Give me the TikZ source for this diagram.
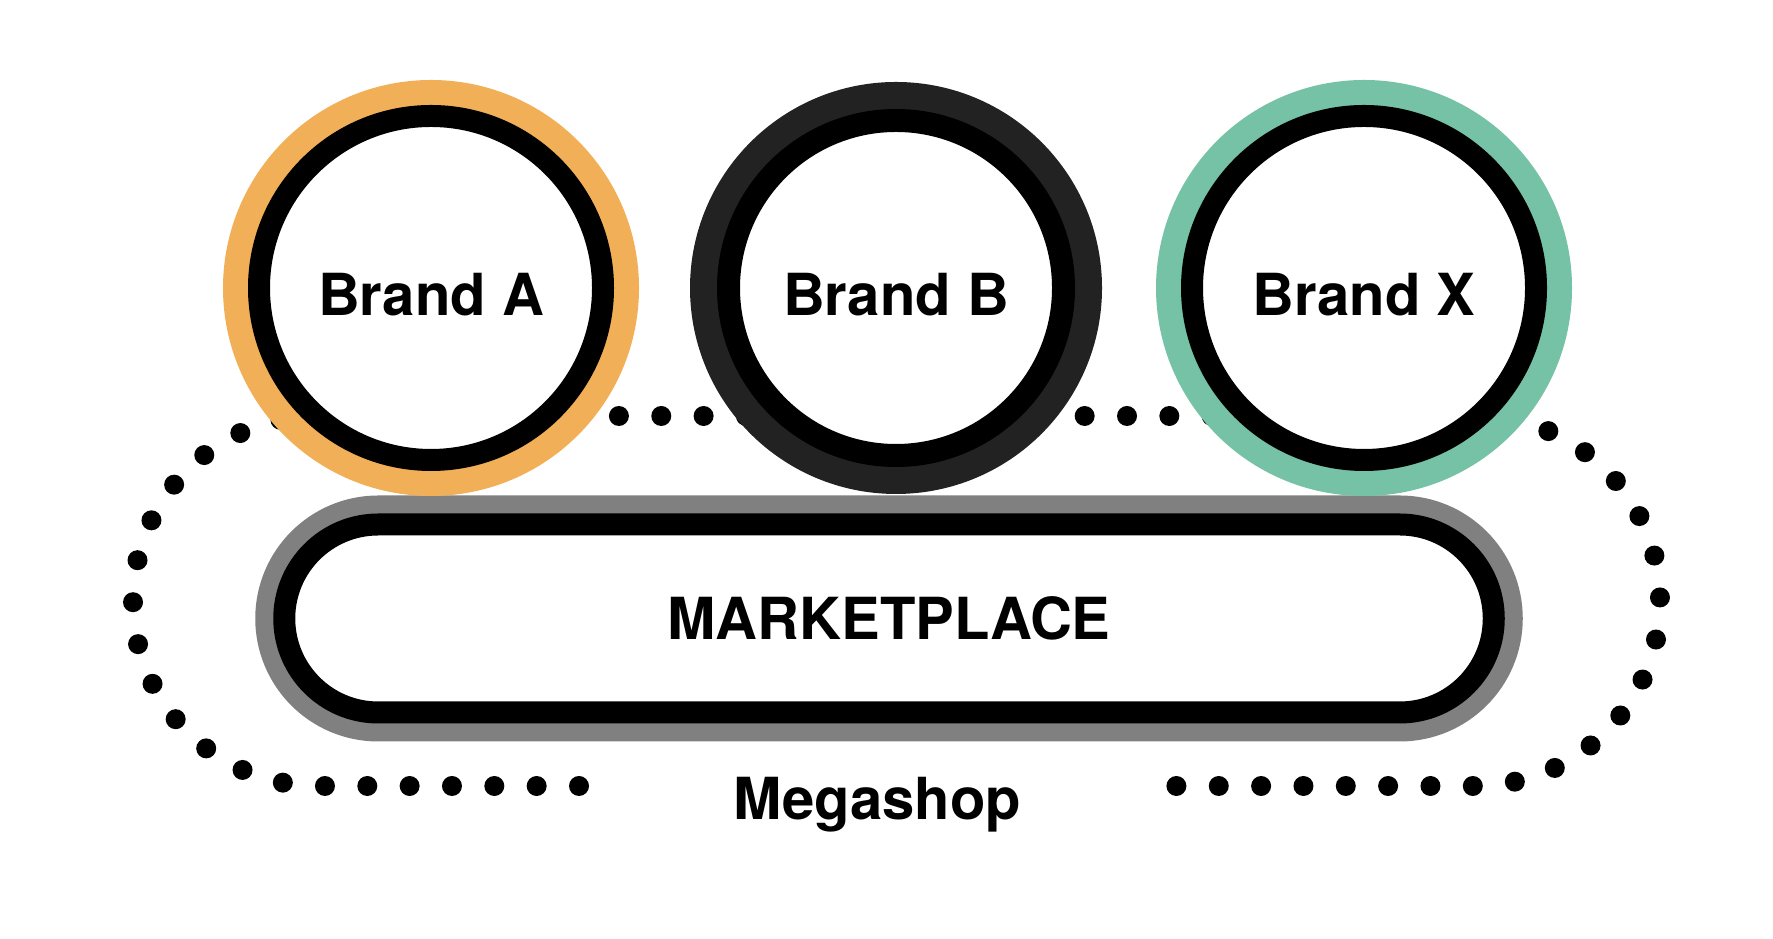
\documentclass[tikz,border=0pt]{standalone}
\usepackage{fontspec}
\setmainfont{TeX Gyre Heros}
\usepackage{xcolor}
\usetikzlibrary{calc}
\definecolor{brandorange}{RGB}{241,176,87}
\definecolor{brandteal}{RGB}{117,194,166}
\definecolor{branddark}{RGB}{34,34,34}
\definecolor{shopgray}{RGB}{128,128,128}
\newcommand{\bigbold}[1]{\bfseries\fontsize{#1}{#1}\selectfont}
\tikzset{brand/.style={circle,draw=black,fill=white,line width=2.2mm,inner sep=0pt,minimum size=3.44cm,
    text height=15.4pt,text depth=0pt,font=\bigbold{16.5}},
  ring/.style={preaction={draw=#1,line width=7.2mm}},
  market/.style={draw=black,fill=white,line width=2.2mm,rounded corners=9.4mm,minimum width=12.095cm,minimum height=1.88cm,
    preaction={draw=shopgray,line width=5.8mm},font=\bigbold{16.5}},
  dots/.style={line width=2mm,line cap=round,dash pattern=on 0pt off 4.234mm}}

\begin{document}
\begin{tikzpicture}
\useasboundingbox (0,0) rectangle (17.73,9.39);
\coordinate (gapL) at (5.79,1.53);
\coordinate (gapR) at (11.76,1.53);
\draw[dots] (gapL) -- (3.18,1.53) arc[start angle=270,end angle=90,radius=1.85]
  -- (14.75,5.23) arc[start angle=90,end angle=-90,radius=1.85] -- (gapR);
\node[market] (mkt) at (8.89,3.205) {MARKETPLACE};
\node[brand,ring=brandorange] (brandA) at (4.31,6.51) {Brand A};
\node[brand,minimum size=3.35cm,line width=2.3mm,preaction={draw=branddark,line width=7.7mm}] (brandB) at (8.96,6.51) {Brand B};
\node[brand,ring=brandteal] (brandX) at (13.64,6.51) {Brand X};
\node[font=\bigbold{16.5},anchor=base] (shop) at (8.775,1.19) {Megashop};
\end{tikzpicture}
\end{document}
